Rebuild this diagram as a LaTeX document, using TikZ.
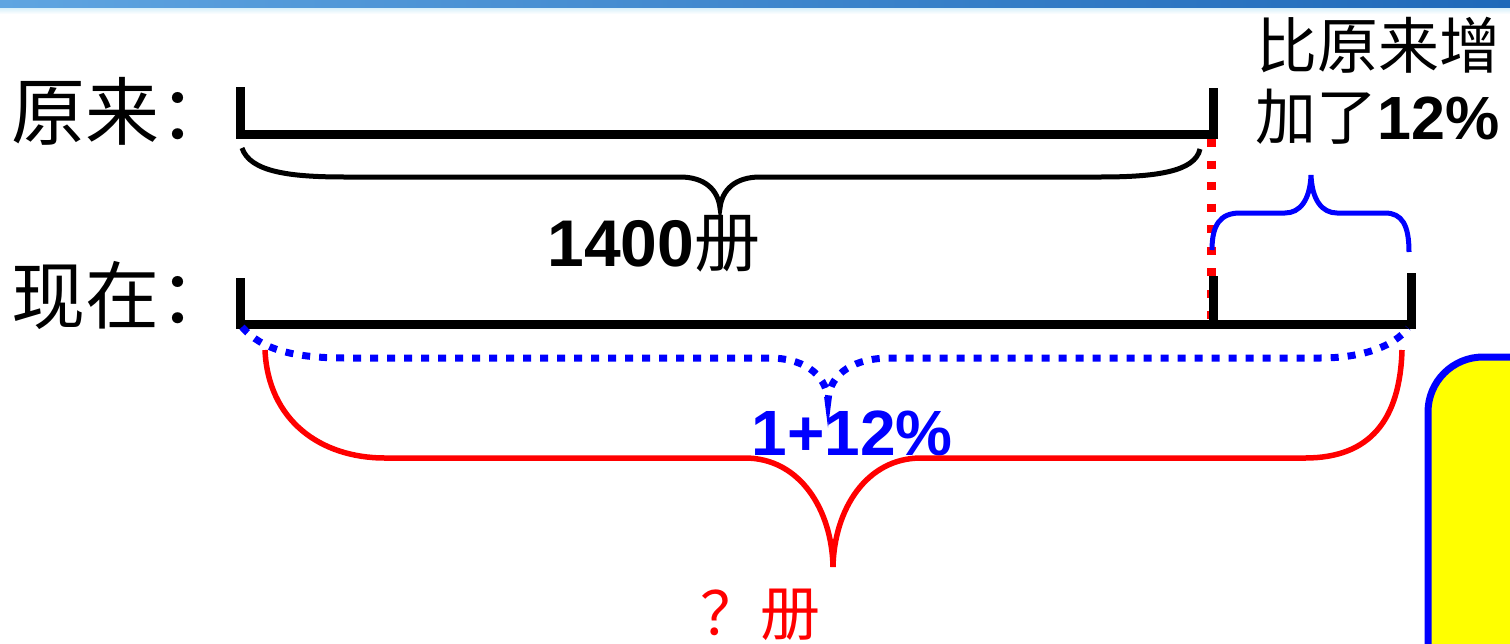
\documentclass[tikz,border=0pt]{standalone}
\usepackage{fontspec}
\setmainfont{Liberation Sans}
\newfontfamily\cjk{Noto Sans CJK SC}
\definecolor{pureblue}{RGB}{0,0,255}
\definecolor{purered}{RGB}{255,0,0}
\definecolor{pureyellow}{RGB}{255,255,0}
\definecolor{stripdark}{RGB}{30,105,185}
\definecolor{striplight}{RGB}{95,165,225}
\definecolor{stripfade}{RGB}{215,240,250}
\begin{document}
\begin{tikzpicture}[x=1pt,y=-1pt,
  barline/.style={line width=9pt, line join=miter, line cap=butt},
  bracethin/.style={line width=5pt, line cap=round},
  bluedots/.style={line width=7pt, pureblue, dash pattern=on 8pt off 9pt},
  reddots/.style={line width=9pt, purered, dash pattern=on 8pt off 13.5pt},
  label/.style={inner sep=0pt, outer sep=0pt},
]
\useasboundingbox (0,0) rectangle (1510,643);
\clip (0,0) rectangle (1510,643);
% top strip
\shade[left color=striplight, right color=stripdark] (0,0) rectangle (1510,8);
\shade[top color=stripfade, bottom color=white] (0,8) rectangle (1510,14);

% coordinates
\coordinate (oTL) at (240,87);
\coordinate (oBL) at (240,134);
\coordinate (oBR) at (1213,134);
\coordinate (oTR) at (1213,88);
\coordinate (nTL) at (240,278);
\coordinate (nBL) at (240,324);
\coordinate (nBM) at (1213,324);
\coordinate (nTM) at (1213,276);
\coordinate (nBR) at (1411,324);
\coordinate (nTR) at (1411,273);
\coordinate (rTop) at (1211,139);
\coordinate (rBot) at (1211,322);

% labels
\node[label, anchor=west] (orig) at (12,111) {\cjk\fontsize{74}{80}\selectfont 原来：};
\node[label, anchor=west] (now) at (12,295) {\cjk\fontsize{74}{80}\selectfont 现在：};
\node[label] (n1400) at (654,244) {\fontsize{66}{70}\selectfont\bfseries 1400{\cjk\mdseries 册}};
\node[label] (inc1) at (1378,45) {\cjk\fontsize{61}{66}\selectfont 比原来增};
\node[label] (inc2) at (1378,117) {\cjk\fontsize{61}{66}\selectfont 加了{\rmfamily\bfseries 12\%}};
\node[label, text=pureblue] (pct) at (852,433) {\fontsize{64}{70}\selectfont\bfseries 1+12\%};
\node[label, text=purered, anchor=west] (q) at (700,615) {\cjk\fontsize{60}{66}\selectfont ？册};

% red dotted divider
\draw[reddots] (rTop) -- (rBot);

% bars
\draw[barline] (oTL) -- (oBL) -- (oBR) -- (oTR);
\draw[barline] (nTL) -- (nBL) -- (nBR) -- (nTR);
\draw[barline] (nTM) -- (nBM);

% black brace (1400)
\draw[bracethin, line cap=butt] (242,148) .. controls (250,172) and (290,177) .. (345,177)
  -- (680,177) .. controls (705,177) and (718,190) .. (720,208)
  .. controls (722,190) and (735,177) .. (760,177)
  -- (1100,177) .. controls (1155,177) and (1195,172) .. (1200,149);

% blue brace (increase)
\draw[bracethin, pureblue, line cap=butt] (1212,250) .. controls (1212,225) and (1220,213) .. (1240,213)
  -- (1285,213) .. controls (1300,213) and (1310,200) .. (1311,175)
  .. controls (1312,200) and (1322,213) .. (1337,213)
  -- (1385,213) .. controls (1402,213) and (1409,225) .. (1409,252);

% blue dotted brace (1+12%)
\draw[bluedots] (242,327) .. controls (262,350) and (295,358) .. (345,358)
  -- (770,358) .. controls (800,358) and (826,372) .. (828,400)
  .. controls (830,372) and (856,358) .. (890,358)
  -- (1320,358) .. controls (1365,358) and (1395,345) .. (1408,328);

% red brace (? 册)
\draw[line width=5.5pt, purered] (265,350) .. controls (268,420) and (320,458) .. (385,458)
  -- (745,458) .. controls (800,458) and (832,510) .. (833,567)
  .. controls (834,510) and (866,458) .. (921,458)
  -- (1305,458) .. controls (1370,458) and (1400,420) .. (1402,350);

% yellow box (cut off at the edge)
\draw[line width=7pt, draw=pureblue, fill=pureyellow, rounded corners=55pt] (1428,357) rectangle (1650,760);
\end{tikzpicture}
\end{document}
